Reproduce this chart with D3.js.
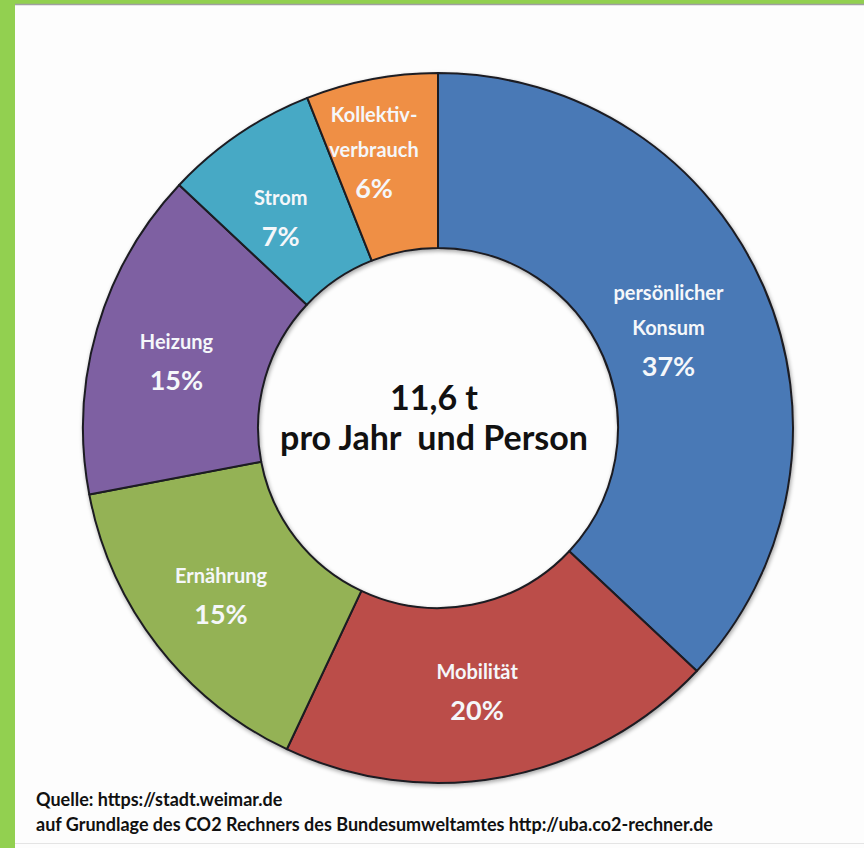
<!DOCTYPE html>
<html>
<head>
<meta charset="utf-8">
<script src="https://cdn.jsdelivr.net/npm/d3@7"></script>
<style>
  html, body { margin: 0; padding: 0; background: #fff; }
  svg { display: block; }
  text { font-family: Lato, "Open Sans", sans-serif; }
</style>
</head>
<body>
<svg width="864" height="848"></svg>
<script>
// CO2-Fußabdruck pro Person, Anteile in Prozent
var categories = ["persönlicher Konsum", "Mobilität", "Ernährung", "Heizung", "Strom", "Kollektivverbrauch"];
var labelLines = [["persönlicher", "Konsum"], ["Mobilität"], ["Ernährung"], ["Heizung"], ["Strom"], ["Kollektiv-", "verbrauch"]];
var shares = [37, 20, 15, 15, 7, 6];
var colors = ["#4a79b6", "#bb4d4a", "#94b254", "#7e61a2", "#47a9c5", "#ef8f45"];
var centerLines = ["11,6 t", "pro Jahr  und Person"];
var sourceLines = ["Quelle: https://stadt.weimar.de",
                   "auf Grundlage des CO2 Rechners des Bundesumweltamtes http://uba.co2-rechner.de"];

function main() {
  var svg = d3.select("svg"),
      width = +svg.attr("width"),
      height = +svg.attr("height");

  // frame: green border left and top, white sheet
  svg.append("rect").attr("width", width).attr("height", height).attr("fill", "#92d050");
  svg.append("rect").attr("x", 15).attr("y", 5).attr("width", width - 15).attr("height", height - 5)
     .attr("fill", "#fdfdfd");
  svg.append("line").attr("x1", 15).attr("x2", width).attr("y1", 4.5).attr("y2", 4.5)
     .attr("stroke", "#a0a0a0").attr("stroke-width", 1.5);
  svg.append("line").attr("x1", 15).attr("x2", width).attr("y1", 843.5).attr("y2", 843.5)
     .attr("stroke", "#e4e4e4").attr("stroke-width", 1);

  var cx = 438, cy = 428, outerR = 355, innerR = 180;

  var defs = svg.append("defs");
  var f = defs.append("filter").attr("id", "shadow").attr("x", "-10%").attr("y", "-10%")
              .attr("width", "120%").attr("height", "120%");
  f.append("feGaussianBlur").attr("in", "SourceAlpha").attr("stdDeviation", 2).attr("result", "b");
  f.append("feOffset").attr("in", "b").attr("dx", 1).attr("dy", 2).attr("result", "o");
  f.append("feComponentTransfer").attr("in", "o").attr("result", "s")
   .append("feFuncA").attr("type", "linear").attr("slope", 0.35);
  var m = f.append("feMerge");
  m.append("feMergeNode").attr("in", "s");
  m.append("feMergeNode").attr("in", "SourceGraphic");

  var g = svg.append("g").attr("transform", "translate(" + cx + "," + cy + ")");

  var pie = d3.pie().sort(null).value(function(d) { return d; });
  var arcs = pie(shares);

  var arc = d3.arc().innerRadius(innerR).outerRadius(outerR);
  var labelArc = d3.arc().innerRadius(262).outerRadius(262);

  g.append("g").attr("filter", "url(#shadow)")
   .selectAll("path")
   .data(arcs)
   .enter().append("path")
   .attr("d", arc)
   .attr("fill", function(d, i) { return colors[i]; })
   .attr("stroke", "#1c1c22")
   .attr("stroke-width", 2)
   .attr("stroke-linejoin", "round");

  // slice labels: line centres spaced, block centred near the centroid
  var nameSpacing = 35, pctGap = 38;
  arcs.forEach(function(d, i) {
    var c = labelArc.centroid(d);
    var lines = labelLines[i];
    var span = (lines.length - 1) * nameSpacing + pctGap;
    // narrow slices with tall labels get pushed outward a bit
    var push = lines.length > 1 && (d.endAngle - d.startAngle) < 0.5 ? 26 : 0;
    var a = (d.startAngle + d.endAngle) / 2;
    var x = c[0] + push * Math.sin(a) - 10;
    var first = c[1] - push * Math.cos(a) + 6 - span / 2;
    var t = g.append("g").attr("fill", "#f5f7fa").attr("text-anchor", "middle");
    lines.forEach(function(s, k) {
      t.append("text").attr("x", x).attr("y", first + k * nameSpacing + 7)
       .style("font-size", "20px").style("font-weight", 700).text(s);
    });
    t.append("text").attr("x", x).attr("y", first + span + 10)
     .style("font-size", "27px").style("font-weight", 700).text(shares[i] + "%");
  });

  // centre text
  g.selectAll(".center")
   .data(centerLines)
   .enter().append("text")
   .attr("class", "center")
   .attr("x", -4)
   .attr("y", function(d, i) { return -18 + i * 40; })
   .attr("text-anchor", "middle")
   .attr("fill", "#111")
   .attr("xml:space", "preserve")
   .style("white-space", "pre")
   .style("font-size", "34px")
   .style("font-weight", 700)
   .text(function(d) { return d; });

  // source note
  svg.selectAll(".src")
   .data(sourceLines)
   .enter().append("text")
   .attr("class", "src")
   .attr("x", 36)
   .attr("y", function(d, i) { return 806 + i * 25; })
   .attr("fill", "#111")
   .style("font-size", "18px")
   .style("font-weight", 700)
   .text(function(d) { return d; });
}
main();
</script>
</body>
</html>
